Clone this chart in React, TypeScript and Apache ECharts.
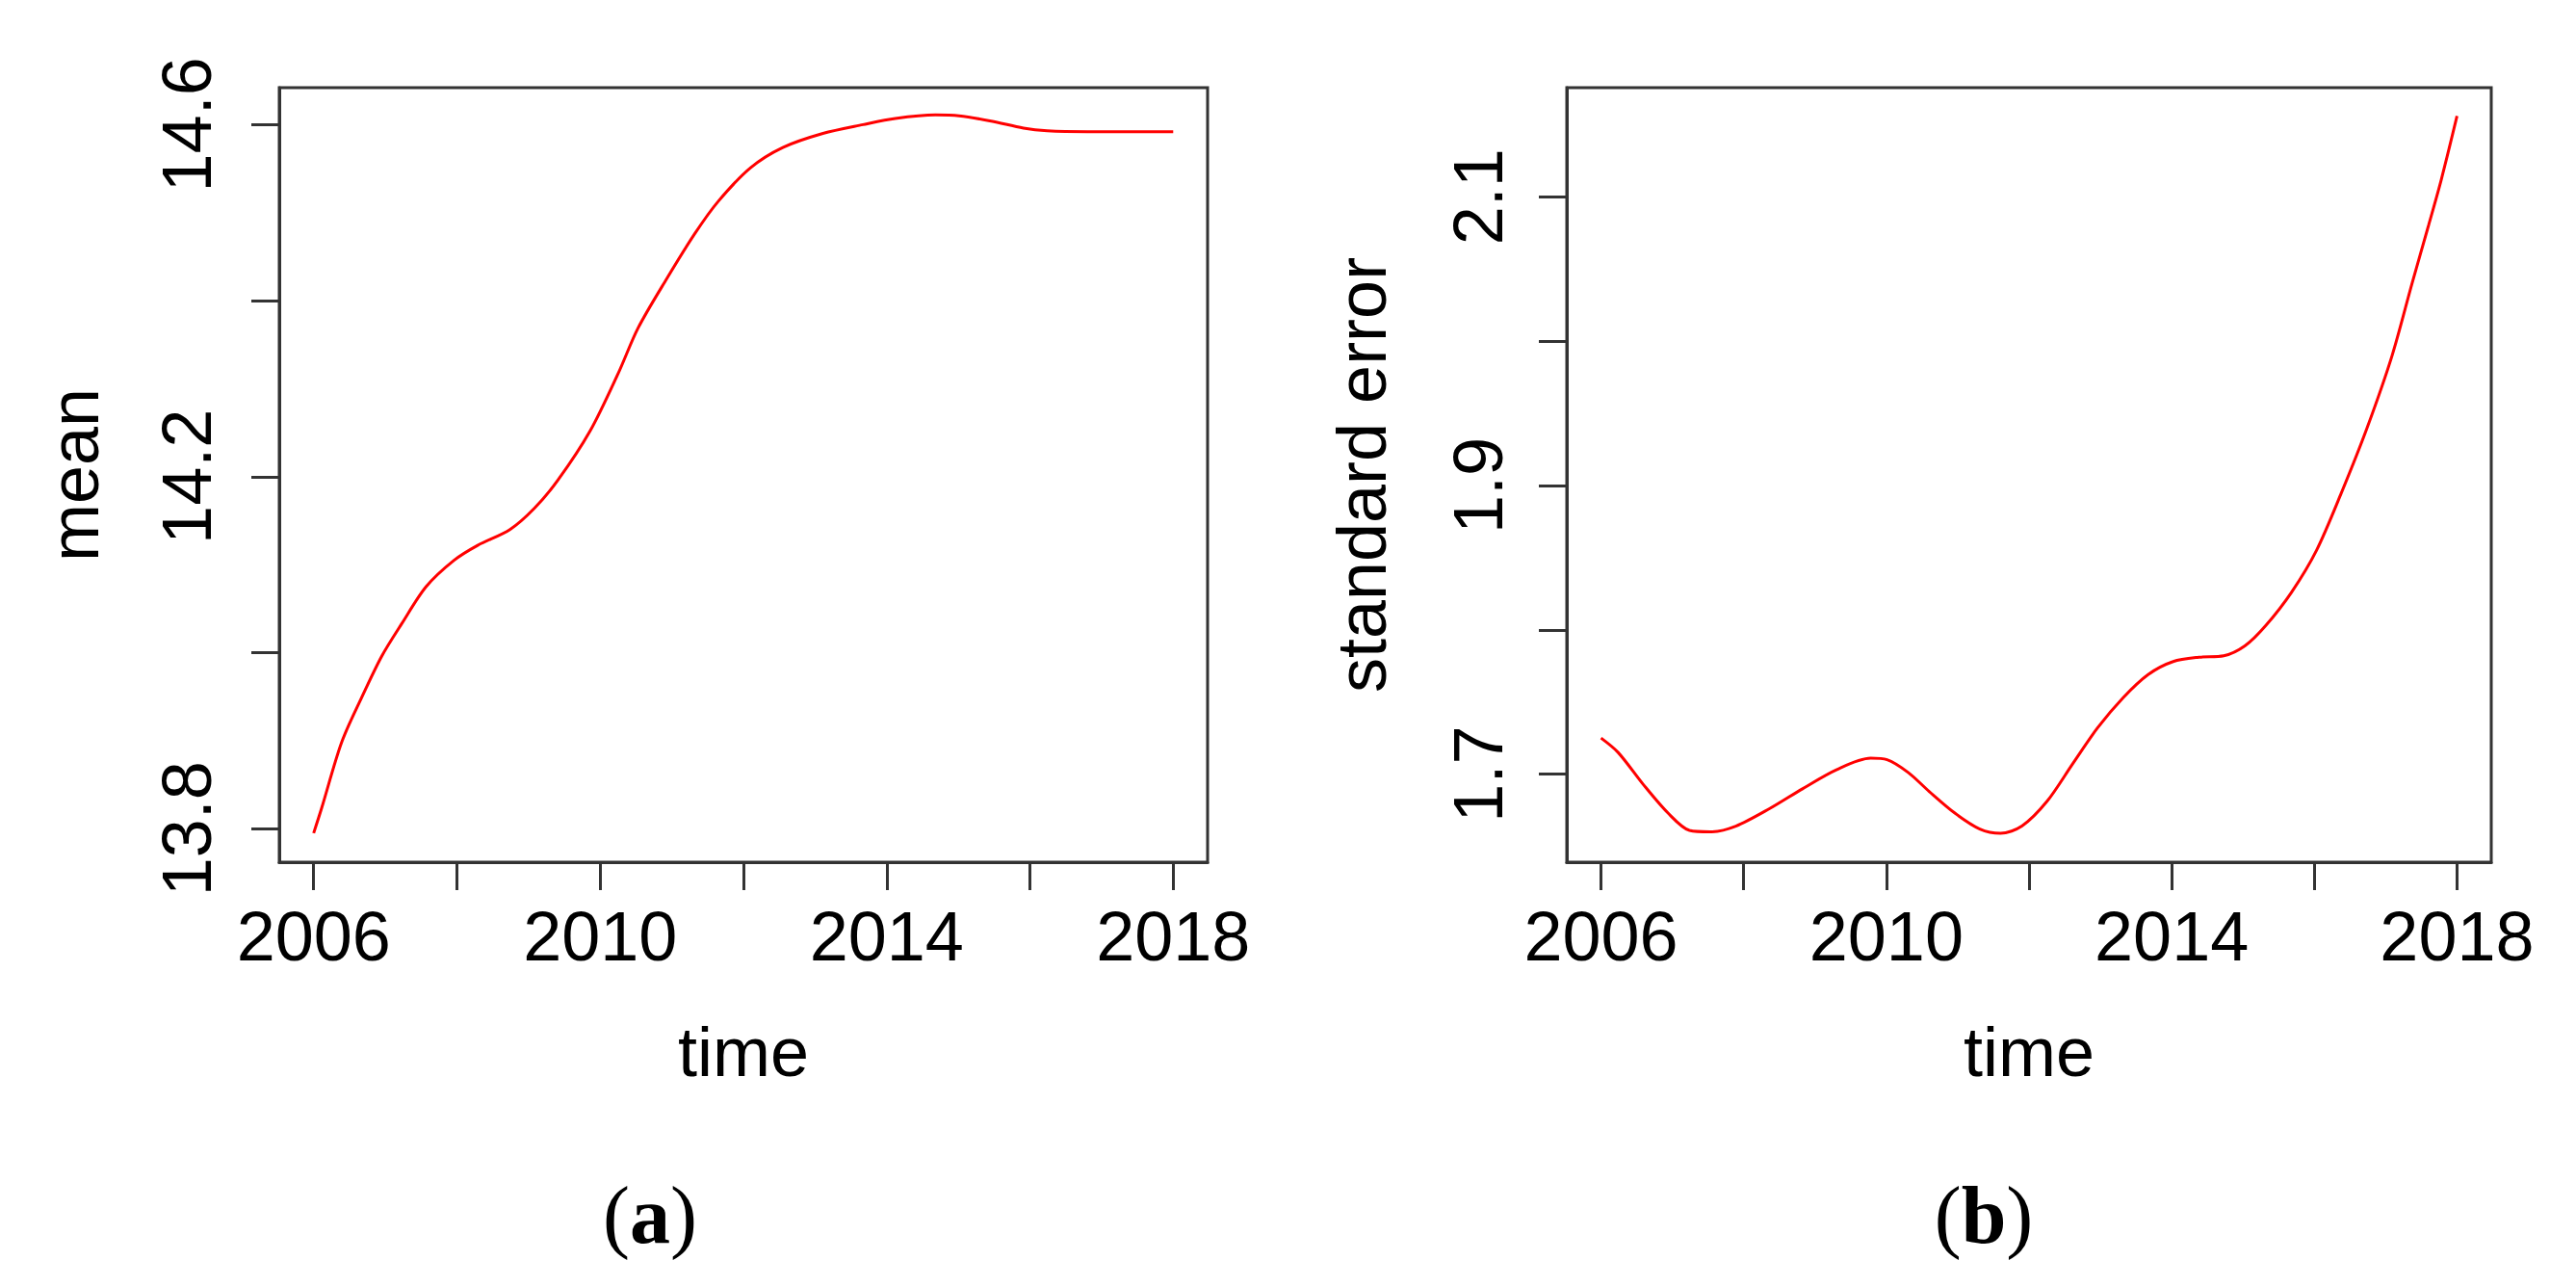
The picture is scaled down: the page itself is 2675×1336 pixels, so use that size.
import React, { useEffect, useRef } from 'react';
import * as echarts from 'echarts';

// Panel (a): mean over time
const yearsA = [2006, 2006.11, 2006.39, 2006.67, 2006.95, 2007.23, 2007.57, 2007.96, 2008.29, 2008.74, 2009.08, 2009.41, 2009.86, 2010.25, 2010.53, 2010.93, 2011.32, 2011.65, 2012.1, 2012.55, 2013.11, 2013.67, 2014.12, 2014.68, 2015.01, 2015.46, 2015.91, 2016.24, 2016.8, 2018];
const meanValues = [13.795, 13.823, 13.898, 13.949, 13.996, 14.033, 14.075, 14.105, 14.122, 14.14, 14.164, 14.196, 14.252, 14.317, 14.369, 14.425, 14.476, 14.513, 14.551, 14.574, 14.59, 14.6, 14.607, 14.611, 14.61, 14.604, 14.596, 14.593, 14.592, 14.592];

// Panel (b): standard error over time
const yearsB = [2006, 2006.24, 2006.59, 2006.94, 2007.24, 2007.53, 2007.89, 2008.36, 2008.83, 2009.3, 2009.78, 2010.01, 2010.31, 2010.6, 2010.96, 2011.31, 2011.6, 2011.9, 2012.25, 2012.61, 2012.96, 2013.32, 2013.67, 2014.02, 2014.38, 2014.73, 2015.03, 2015.32, 2015.68, 2016.03, 2016.38, 2016.74, 2017.09, 2017.37, 2017.6, 2017.78, 2018];
const seValues = [1.725, 1.715, 1.693, 1.673, 1.661, 1.66, 1.664, 1.676, 1.69, 1.703, 1.711, 1.71, 1.701, 1.688, 1.673, 1.662, 1.659, 1.664, 1.681, 1.707, 1.732, 1.753, 1.769, 1.778, 1.781, 1.782, 1.789, 1.803, 1.826, 1.855, 1.895, 1.94, 1.99, 2.04, 2.08, 2.112, 2.156];

// Ticks and labels
const xTicks = [2006, 2008, 2010, 2012, 2014, 2016, 2018];
const xLabels = [2006, 2010, 2014, 2018];
const meanTicks = [13.8, 14.0, 14.2, 14.4, 14.6];
const meanLabels = [13.8, 14.2, 14.6];
const seTicks = [1.7, 1.8, 1.9, 2.0, 2.1];
const seLabels = [1.7, 1.9, 2.1];

const xRange = [2005.52, 2018.48];
const meanRange = [13.762, 14.642];
const seRange = [1.639, 2.1756];

const SANS = "'Liberation Sans', Arial, sans-serif";
const SERIF = "'Liberation Serif', 'Times New Roman', serif";
const AX = '#333';

function xAxisFor(gridIndex: number) {
  return {
    type: 'value',
    gridIndex,
    min: xRange[0],
    max: xRange[1],
    name: 'time',
    nameLocation: 'middle',
    nameGap: 161,
    nameTextStyle: { fontSize: 72, color: '#000', fontFamily: SANS },
    axisLine: { show: true, lineStyle: { color: AX, width: 3 } },
    axisTick: { show: true, length: 29, lineStyle: { color: AX, width: 3 }, customValues: xTicks },
    axisLabel: {
      customValues: xLabels,
      fontSize: 72,
      color: '#000',
      fontFamily: SANS,
      margin: 41,
      formatter: (v: number) => String(Math.round(v)),
    },
    splitLine: { show: false },
  };
}

function yAxisFor(gridIndex: number, range: number[], ticks: number[], labels: number[], name: string, margin: number) {
  return {
    type: 'value',
    gridIndex,
    min: range[0],
    max: range[1],
    name,
    nameLocation: 'middle',
    nameGap: 177,
    nameRotate: 90,
    nameTextStyle: { fontSize: 72, color: '#000', fontFamily: SANS },
    axisLine: { show: true, lineStyle: { color: AX, width: 3 } },
    axisTick: { show: true, length: 29, lineStyle: { color: AX, width: 3 }, customValues: ticks },
    axisLabel: {
      customValues: labels,
      rotate: 90,
      fontSize: 72,
      color: '#000',
      fontFamily: SANS,
      margin,
      formatter: (v: number) => v.toFixed(1),
    },
    splitLine: { show: false },
  };
}

export default function App() {
  const ref = useRef<HTMLDivElement>(null);
  useEffect(() => {
    if (!ref.current) return;
    const chart = echarts.init(ref.current, undefined, { renderer: 'svg' });
    const gridStyle = { show: true, borderColor: AX, borderWidth: 3, backgroundColor: 'transparent' };
    chart.setOption({
      animation: false,
      backgroundColor: '#fff',
      grid: [
        { left: 290, top: 91, width: 964, height: 804, ...gridStyle },
        { left: 1627, top: 91, width: 960, height: 804, ...gridStyle },
      ],
      xAxis: [xAxisFor(0), xAxisFor(1)],
      yAxis: [
        yAxisFor(0, meanRange, meanTicks, meanLabels, 'mean', 60),
        yAxisFor(1, seRange, seTicks, seLabels, 'standard error', 56),
      ],
      series: [
        {
          type: 'line',
          xAxisIndex: 0,
          yAxisIndex: 0,
          data: yearsA.map((y, i) => [y, meanValues[i]]),
          showSymbol: false,
          smooth: 0.3,
          lineStyle: { color: '#ff0000', width: 3 },
        },
        {
          type: 'line',
          xAxisIndex: 1,
          yAxisIndex: 1,
          data: yearsB.map((y, i) => [y, seValues[i]]),
          showSymbol: false,
          smooth: 0.3,
          lineStyle: { color: '#ff0000', width: 3 },
        },
      ],
      graphic: [
        {
          type: 'text',
          x: 675,
          y: 1261,
          style: {
            text: '{p|(}{b|a}{p|)}',
            align: 'center',
            verticalAlign: 'middle',
            fill: '#000',
            rich: {
              p: { fontFamily: SERIF, fontSize: 84, fontWeight: 'normal', fill: '#000' },
              b: { fontFamily: SERIF, fontSize: 84, fontWeight: 'bold', fill: '#000' },
            },
          },
        },
        {
          type: 'text',
          x: 2060,
          y: 1261,
          style: {
            text: '{p|(}{b|b}{p|)}',
            align: 'center',
            verticalAlign: 'middle',
            fill: '#000',
            rich: {
              p: { fontFamily: SERIF, fontSize: 84, fontWeight: 'normal', fill: '#000' },
              b: { fontFamily: SERIF, fontSize: 84, fontWeight: 'bold', fill: '#000' },
            },
          },
        },
      ],
    });
    return () => chart.dispose();
  }, []);
  return <div ref={ref} style={{ position: 'absolute', left: 0, top: 0, width: 2675, height: 1336 }} />;
}
